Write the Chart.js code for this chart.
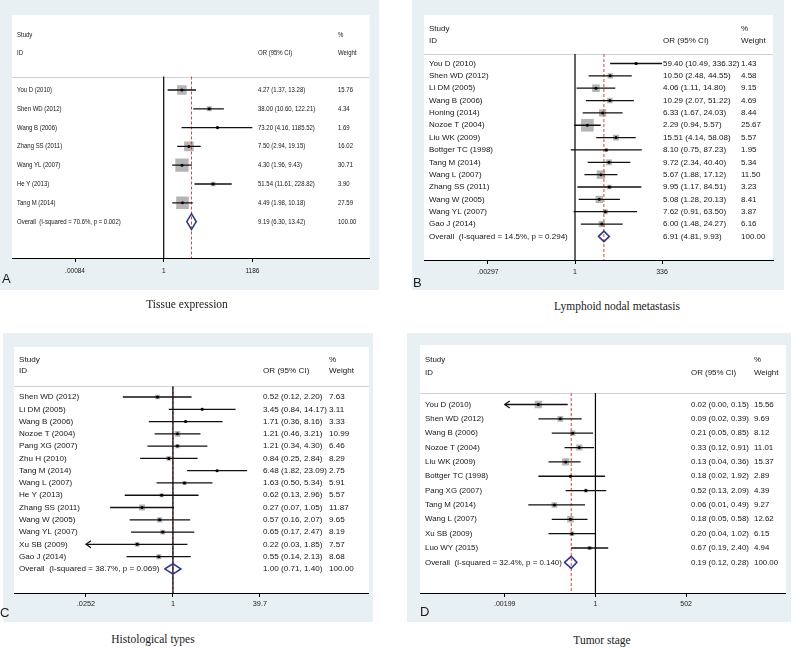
<!DOCTYPE html>
<html>
<head>
<meta charset="utf-8">
<script src="https://cdn.jsdelivr.net/npm/chart.js@4.4.1/dist/chart.umd.min.js"></script>
<style>
  body { margin: 0; background: #fff; width: 800px; height: 651px; position: relative; overflow: hidden; }
  .panel { position: absolute; background: #e8f0f4; }
  .panel canvas { position: absolute; left: 0; top: 0; }
  .letter { position: absolute; font: 13px "Liberation Sans", Arial, sans-serif; color: #1a1a1a; line-height: 1; }
  .title { position: absolute; font: 11.5px "Liberation Serif", "Times New Roman", serif; color: #1a1a1a; line-height: 1;
           transform: translateX(-50%); white-space: nowrap; }
</style>
</head>
<body>
<div class="panel" id="pA"><canvas id="cA"></canvas></div>
<div class="panel" id="pB"><canvas id="cB"></canvas></div>
<div class="panel" id="pC"><canvas id="cC"></canvas></div>
<div class="panel" id="pD"><canvas id="cD"></canvas></div>
<div class="letter" style="left:2px;top:272px">A</div>
<div class="letter" style="left:413px;top:276px">B</div>
<div class="letter" style="left:0px;top:606px">C</div>
<div class="letter" style="left:420px;top:605px">D</div>
<div class="title" style="left:187px;top:299px">Tissue expression</div>
<div class="title" style="left:617px;top:301px">Lymphoid nodal metastasis</div>
<div class="title" style="left:153px;top:634px">Histological types</div>
<div class="title" style="left:602px;top:635px">Tumor stage</div>
<script>
// A - tissue expression
const studiesA = ['You D (2010)', 'Shen WD (2012)', 'Wang B (2006)', 'Zhang SS (2011)', 'Wang YL (2007)', 'He Y (2013)', 'Tang M (2014)'];
const orA = [4.27, 38.00, 73.20, 7.50, 4.30, 51.54, 4.49];
const loA = [1.37, 10.60, 4.16, 2.94, 1.96, 11.61, 1.98];
const hiA = [13.28, 122.21, 1185.52, 19.15, 9.43, 228.82, 10.18];
const weightA = [15.76, 4.34, 1.69, 16.02, 30.71, 3.90, 27.59];
const overallA = [9.19, 6.30, 13.42];
const hetA = [70.6, 0.002];
const ticksA = [0.000843, 1, 1185.52];
const tickLabelsA = ['.00084', '1', '1186'];

// B - lymphoid nodal metastasis
const studiesB = ['You D (2010)', 'Shen WD (2012)', 'Li DM (2005)', 'Wang B (2006)', 'Honing (2014)', 'Nozoe T (2004)', 'Liu WK (2009)',
  'Bottger TC (1998)', 'Tang M (2014)', 'Wang L (2007)', 'Zhang SS (2011)', 'Wang W (2005)', 'Wang YL (2007)', 'Gao J (2014)'];
const orB = [59.40, 10.50, 4.06, 10.29, 6.33, 2.29, 15.51, 8.10, 9.72, 5.67, 9.95, 5.08, 7.62, 6.00];
const loB = [10.49, 2.48, 1.11, 2.07, 1.67, 0.94, 4.14, 0.75, 2.34, 1.88, 1.17, 1.28, 0.91, 1.48];
const hiB = [336.32, 44.55, 14.80, 51.22, 24.03, 5.57, 58.08, 87.23, 40.40, 17.12, 84.51, 20.13, 63.50, 24.27];
const weightB = [1.43, 4.58, 9.15, 4.69, 8.44, 25.67, 5.57, 1.95, 5.34, 11.50, 3.23, 8.41, 3.87, 6.16];
const overallB = [6.91, 4.81, 9.93];
const hetB = [14.5, 0.294];
const ticksB = [0.002973, 1, 336.32];
const tickLabelsB = ['.00297', '1', '336'];

// C - histological types
const studiesC = ['Shen WD (2012)', 'Li DM (2005)', 'Wang B (2006)', 'Nozoe T (2004)', 'Pang XG (2007)', 'Zhu H (2010)', 'Tang M (2014)',
  'Wang L (2007)', 'He Y (2013)', 'Zhang SS (2011)', 'Wang W (2005)', 'Wang YL (2007)', 'Xu SB (2009)', 'Gao J (2014)'];
const orC = [0.52, 3.45, 1.71, 1.21, 1.21, 0.84, 6.48, 1.63, 0.62, 0.27, 0.57, 0.65, 0.22, 0.55];
const loC = [0.12, 0.84, 0.36, 0.46, 0.34, 0.25, 1.82, 0.50, 0.13, 0.07, 0.16, 0.17, 0.0252, 0.14];
const hiC = [2.20, 14.17, 8.16, 3.21, 4.30, 2.84, 23.09, 5.34, 2.96, 1.05, 2.07, 2.47, 1.85, 2.13];
const weightC = [7.63, 3.11, 3.33, 10.99, 6.46, 8.29, 2.75, 5.91, 5.57, 11.87, 9.65, 8.19, 7.57, 8.68];
const overallC = [1.00, 0.71, 1.40];
const hetC = [38.7, 0.069];
const ticksC = [0.0252, 1, 39.68];
const tickLabelsC = ['.0252', '1', '39.7'];

// D - tumor stage
const studiesD = ['You D (2010)', 'Shen WD (2012)', 'Wang B (2006)', 'Nozoe T (2004)', 'Liu WK (2009)', 'Bottger TC (1998)',
  'Pang XG (2007)', 'Tang M (2014)', 'Wang L (2007)', 'Xu SB (2009)', 'Luo WY (2015)'];
const orD = [0.02, 0.09, 0.21, 0.33, 0.13, 0.18, 0.52, 0.06, 0.18, 0.20, 0.67];
const loD = [0.00199, 0.02, 0.05, 0.12, 0.04, 0.02, 0.13, 0.01, 0.05, 0.04, 0.19];
const hiD = [0.15, 0.39, 0.85, 0.91, 0.36, 1.92, 2.09, 0.49, 0.58, 1.02, 2.40];
const weightD = [15.56, 9.69, 8.12, 11.01, 15.37, 2.89, 4.39, 9.27, 12.62, 6.15, 4.94];
const overallD = [0.19, 0.12, 0.28];
const hetD = [32.4, 0.140];
const ticksD = [0.00199, 1, 502.5];
const tickLabelsD = ['.00199', '1', '502'];

const FONT = '"Liberation Sans", Arial, sans-serif';
const AXH = 20; // height reserved for the x axis

// page-pixel layout of every panel
const layoutA = { bx: 0, by: 0, bw: 379, bh: 290, left: 12, right: 375, top: 15, axis: 258, y0: 90, step: 18.8, sep: 76.5,
  studyY: 35, idY: 53, textX: 17, orX: 258, wX: 338, x1: 166, xHi: 256, k: 2.4, font: 7.3, sx: 0.82, tickFont: 6.5, tickPad: 5 };
const layoutB = { bx: 412, by: 0, bw: 372, bh: 290, left: 424, right: 773, top: 15, axis: 260, y0: 63.5, step: 12.35, sep: 54,
  studyY: 28.5, idY: 40.5, textX: 429, orX: 663, wX: 741, x1: 575, xHi: 662, k: 2.5, font: 8, sx: 1, tickFont: 7, tickPad: 4 };
const layoutC = { bx: 3, by: 333, bw: 370, bh: 289, left: 14, right: 369, top: 347, axis: 593, y0: 397, step: 12.28, sep: 386.5,
  studyY: 359.5, idY: 371, textX: 19, orX: 263, wX: 329, x1: 173, xHi: 260, k: 1.7, font: 8.1, sx: 1, tickFont: 7.3, tickPad: 3 };
const layoutD = { bx: 407, by: 333, bw: 384, bh: 289, left: 420, right: 787, top: 345, axis: 593, y0: 404.5, step: 14.35, sep: 393,
  studyY: 359.5, idY: 372.5, textX: 425, orX: 691, wX: 754, x1: 596, xHi: 687, k: 1.85, font: 7.9, sx: 1, tickFont: 7, tickPad: 3 };

function drawText(ctx, s, x, y, sx) {
  ctx.save();
  ctx.translate(x, y);
  ctx.scale(sx, 1);
  ctx.fillText(s, 0, 0);
  ctx.restore();
}

function buildForest(key, d, L) {
  const panel = document.getElementById('p' + key);
  panel.style.left = L.bx + 'px';
  panel.style.top = L.by + 'px';
  panel.style.width = L.bw + 'px';
  panel.style.height = L.bh + 'px';
  const canvas = document.getElementById('c' + key);
  canvas.width = L.bw;
  canvas.height = L.bh;

  const n = d.studies.length;
  const tmin = d.ticks[0];
  const tmax = d.ticks[2];
  const P = (L.xHi - L.x1) / Math.log(tmax);
  const xmin = Math.exp((L.left - L.x1) / P);
  const xmax = Math.exp((L.right - L.x1) / P);
  const ymin = (L.top - L.y0) / L.step;
  const ymax = (L.axis - L.y0) / L.step;
  const sepRow = (L.sep - L.y0) / L.step;

  const segs = [];
  d.or.forEach((v, i) => {
    segs.push({ x: Math.max(d.lo[i], tmin), y: i }, { x: Math.min(d.hi[i], tmax), y: i }, { x: null, y: null });
  });
  const [ov, ovLo, ovHi] = d.overall;
  const h = 0.42;
  const diamond = [{ x: ovLo, y: n }, { x: ov, y: n - h }, { x: ovHi, y: n }, { x: ov, y: n + h }, { x: ovLo, y: n }];

  const forestText = {
    id: 'forestText',
    beforeDraw(chart) {
      const { ctx, chartArea: a } = chart;
      ctx.save();
      ctx.fillStyle = '#fff';
      ctx.fillRect(a.left, a.top, a.right - a.left, a.bottom - a.top);
      ctx.strokeStyle = '#cbd5da';
      ctx.lineWidth = 1;
      const ys = Math.round(chart.scales.y.getPixelForValue(sepRow)) + 0.5;
      ctx.beginPath();
      ctx.moveTo(a.left, ys);
      ctx.lineTo(a.right, ys);
      ctx.stroke();
      ctx.restore();
    },
    afterDraw(chart) {
      const { ctx } = chart;
      const ys = chart.scales.y;
      const xs = chart.scales.x;
      const ox = L.bx, oy = L.by;
      ctx.save();
      ctx.fillStyle = '#161616';
      ctx.font = L.font + 'px ' + FONT;
      ctx.textBaseline = 'middle';
      drawText(ctx, 'Study', L.textX - ox, L.studyY - oy, L.sx);
      drawText(ctx, 'ID', L.textX - ox, L.idY - oy, L.sx);
      drawText(ctx, 'OR (95% CI)', L.orX - ox, L.idY - oy, L.sx);
      drawText(ctx, '%', L.wX - ox, L.studyY - oy, L.sx);
      drawText(ctx, 'Weight', L.wX - ox, L.idY - oy, L.sx);
      d.studies.forEach((s, i) => {
        const y = ys.getPixelForValue(i);
        drawText(ctx, s, L.textX - ox, y, L.sx);
        drawText(ctx, `${d.or[i].toFixed(2)} (${d.lo[i].toFixed(2)}, ${d.hi[i].toFixed(2)})`, L.orX - ox, y, L.sx);
        drawText(ctx, d.weight[i].toFixed(2), L.wX - ox, y, L.sx);
      });
      const yo = ys.getPixelForValue(n);
      drawText(ctx, `Overall  (I-squared = ${d.het[0].toFixed(1)}%, p = ${d.het[1].toFixed(3)})`, L.textX - ox, yo, L.sx);
      drawText(ctx, `${ov.toFixed(2)} (${ovLo.toFixed(2)}, ${ovHi.toFixed(2)})`, L.orX - ox, yo, L.sx);
      drawText(ctx, (100).toFixed(2), L.wX - ox, yo, L.sx);

      // arrows for confidence intervals cut at the axis range
      ctx.strokeStyle = '#111';
      ctx.lineWidth = 1.2;
      d.or.forEach((v, i) => {
        const y = ys.getPixelForValue(i);
        if (d.lo[i] <= tmin) {
          const x = xs.getPixelForValue(tmin);
          ctx.beginPath();
          ctx.moveTo(x + 5, y - 3.5);
          ctx.lineTo(x, y);
          ctx.lineTo(x + 5, y + 3.5);
          ctx.stroke();
        }
        if (d.hi[i] > tmax) {
          const x = xs.getPixelForValue(tmax);
          ctx.beginPath();
          ctx.moveTo(x - 5, y - 3.5);
          ctx.lineTo(x, y);
          ctx.lineTo(x - 5, y + 3.5);
          ctx.stroke();
        }
      });
      ctx.restore();
    }
  };

  return new Chart(canvas, {
    type: 'scatter',
    data: {
      datasets: [
        { data: d.or.map((v, i) => ({ x: v, y: i })), pointStyle: 'circle', pointRadius: 1.5,
          backgroundColor: '#000', borderWidth: 0, order: 0 },
        { data: segs, showLine: true, borderColor: '#111', borderWidth: 1.3, pointRadius: 0, spanGaps: false, order: 1 },
        { data: diamond, showLine: true, borderColor: '#2d3a8c', borderWidth: 1.6, pointRadius: 0,
          borderCapStyle: 'round', borderJoinStyle: 'miter', order: 1 },
        { data: [{ x: 1, y: sepRow }, { x: 1, y: ymax }], showLine: true, borderColor: '#000', borderWidth: 1.2,
          pointRadius: 0, order: 2 },
        { data: [{ x: ov, y: sepRow }, { x: ov, y: ymax }], showLine: true, borderColor: '#d8443c', borderWidth: 1,
          borderDash: [3, 2], pointRadius: 0, order: 2 },
        { data: d.or.map((v, i) => ({ x: v, y: i })), pointStyle: 'rect',
          pointRadius: d.weight.map(w => L.k * Math.sqrt(w) / Math.SQRT2),
          backgroundColor: '#b5b5b5', borderWidth: 0, order: 3 }
      ]
    },
    options: {
      responsive: false,
      animation: false,
      events: [],
      layout: { padding: { left: L.left - L.bx, right: L.bx + L.bw - L.right, top: L.top - L.by, bottom: L.by + L.bh - L.axis - AXH } },
      plugins: { legend: { display: false }, tooltip: { enabled: false } },
      scales: {
        x: {
          type: 'logarithmic',
          min: xmin,
          max: xmax,
          afterBuildTicks: (s) => { s.ticks = d.ticks.map(v => ({ value: v })); },
          afterFit: (s) => { s.height = AXH; },
          grid: { drawOnChartArea: false, drawTicks: true, tickLength: 4, color: '#000', lineWidth: 1 },
          border: { display: true, color: '#000', width: 1 },
          ticks: { autoSkip: false, maxRotation: 0, padding: L.tickPad, color: '#1a1a1a',
            font: { family: FONT, size: L.tickFont }, callback: (v, i) => d.tickLabels[i] }
        },
        y: { type: 'linear', reverse: true, min: ymin, max: ymax, display: false }
      }
    },
    plugins: [forestText]
  });
}

buildForest('A', { studies: studiesA, or: orA, lo: loA, hi: hiA, weight: weightA, overall: overallA, het: hetA,
  ticks: ticksA, tickLabels: tickLabelsA }, layoutA);
buildForest('B', { studies: studiesB, or: orB, lo: loB, hi: hiB, weight: weightB, overall: overallB, het: hetB,
  ticks: ticksB, tickLabels: tickLabelsB }, layoutB);
buildForest('C', { studies: studiesC, or: orC, lo: loC, hi: hiC, weight: weightC, overall: overallC, het: hetC,
  ticks: ticksC, tickLabels: tickLabelsC }, layoutC);
buildForest('D', { studies: studiesD, or: orD, lo: loD, hi: hiD, weight: weightD, overall: overallD, het: hetD,
  ticks: ticksD, tickLabels: tickLabelsD }, layoutD);
</script>
</body>
</html>
